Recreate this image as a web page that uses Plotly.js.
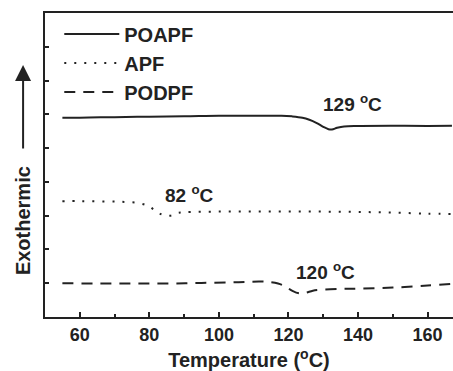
<!DOCTYPE html>
<html><head><meta charset="utf-8">
<script src="https://cdn.plot.ly/plotly-3.0.1.min.js"></script>
<style>html,body{margin:0;padding:0;background:#fff;overflow:hidden}</style>
</head><body><div id="chart" style="width:453px;height:371px"></div>
<script>
var poapfX = [55, 60, 66, 70, 80, 90, 100, 110, 118, 121, 124, 126, 128, 130, 131.5, 132.5, 134, 136, 140, 150, 160, 167];
var poapfY = [5.90, 5.90, 5.91, 5.915, 5.93, 5.94, 5.96, 5.955, 5.96, 5.94, 5.90, 5.84, 5.75, 5.63, 5.56, 5.55, 5.60, 5.64, 5.655, 5.66, 5.655, 5.66];
var apfX = [55, 60, 66, 72, 77, 80, 82, 83.5, 85, 86.5, 88, 90, 100, 110, 120, 130, 140, 150, 160, 167];
var apfY = [3.43, 3.43, 3.42, 3.41, 3.37, 3.27, 3.12, 3.04, 3.00, 3.01, 3.08, 3.10, 3.12, 3.12, 3.12, 3.12, 3.11, 3.09, 3.06, 3.05];
var podpfX = [55, 65, 75, 85, 95, 105, 112, 115, 117, 119, 121, 123, 125, 127, 130, 135, 140, 150, 160, 167];
var podpfY = [1.00, 0.99, 0.99, 0.99, 1.01, 1.03, 1.05, 1.03, 0.99, 0.91, 0.78, 0.70, 0.72, 0.78, 0.81, 0.83, 0.84, 0.87, 0.93, 0.98];
var seriesNames = ['POAPF', 'APF', 'PODPF'];
var peakLabels = ['129 <sup>o</sup>C', '82 <sup>o</sup>C', '120 <sup>o</sup>C'];
var peakX = [138.5, 91.4, 130.5];
var peakY = [6.35, 3.63, 1.35];

var FONT = 'Liberation Sans, Arial, Helvetica, sans-serif';
var INK = '#222';
var traces = [
  {x: poapfX, y: poapfY, name: seriesNames[0], mode: 'lines', line: {color: INK, width: 2, dash: 'solid', shape: 'spline'}},
  {x: apfX, y: apfY, name: seriesNames[1], mode: 'lines', line: {color: INK, width: 2, dash: '2px,8px', shape: 'spline'}},
  {x: podpfX, y: podpfY, name: seriesNames[2], mode: 'lines', line: {color: INK, width: 2, dash: '11px,8px', shape: 'spline'}}
];
var annotations = peakLabels.map(function (t, i) {
  return {x: peakX[i], y: peakY[i], xref: 'x', yref: 'y', text: t, showarrow: false,
    font: {family: FONT, size: 19, color: INK, weight: 'bold'}};
});
annotations.push({xref: 'paper', yref: 'paper', x: -0.0537, y: (317 - 221) / 304, xanchor: 'center', yanchor: 'middle',
  text: 'Exothermic', textangle: -90, showarrow: false, font: {family: FONT, size: 20, color: INK, weight: 'bold'}});
annotations.push({xref: 'paper', yref: 'paper', x: -0.0537, y: (317 - 65) / 304, text: '',
  showarrow: true, arrowhead: 2, arrowsize: 1.6, arrowwidth: 2, arrowcolor: INK, ax: 0, ay: 85});
var layout = {
  width: 453, height: 371,
  margin: {l: 45, r: 0, t: 13, b: 54},
  paper_bgcolor: '#fff', plot_bgcolor: '#fff',
  showlegend: true,
  legend: {x: 0.035, y: 0.995, xanchor: 'left', yanchor: 'top', bgcolor: 'rgba(0,0,0,0)',
    font: {family: FONT, size: 20, color: INK, weight: 'bold'}, itemwidth: 55, tracegroupgap: 0},
  xaxis: {range: [50, 167.3], showgrid: false, zeroline: false, showline: true, linecolor: INK, linewidth: 2,
    mirror: true, ticks: 'inside', ticklen: 5, tickwidth: 2, tickcolor: INK, dtick: 20, tick0: 0,
    minor: {dtick: 10, ticks: 'inside', ticklen: 3, tickwidth: 2, tickcolor: INK},
    tickfont: {family: FONT, size: 18, color: INK, weight: 'bold'}, ticklabelstandoff: 0,
    title: {text: 'Temperature (<sup>o</sup>C)', font: {family: FONT, size: 20, color: INK, weight: 'bold'}, standoff: 13}},
  yaxis: {range: [0, 9], showgrid: false, zeroline: false, showline: true, linecolor: INK, linewidth: 2,
    mirror: false, ticks: 'inside', ticklen: 4, tickwidth: 2, tickcolor: INK, dtick: 1, tick0: 0,
    showticklabels: false},
  annotations: annotations
};
Plotly.newPlot('chart', traces, layout, {staticPlot: true, displayModeBar: false});
</script></body></html>
